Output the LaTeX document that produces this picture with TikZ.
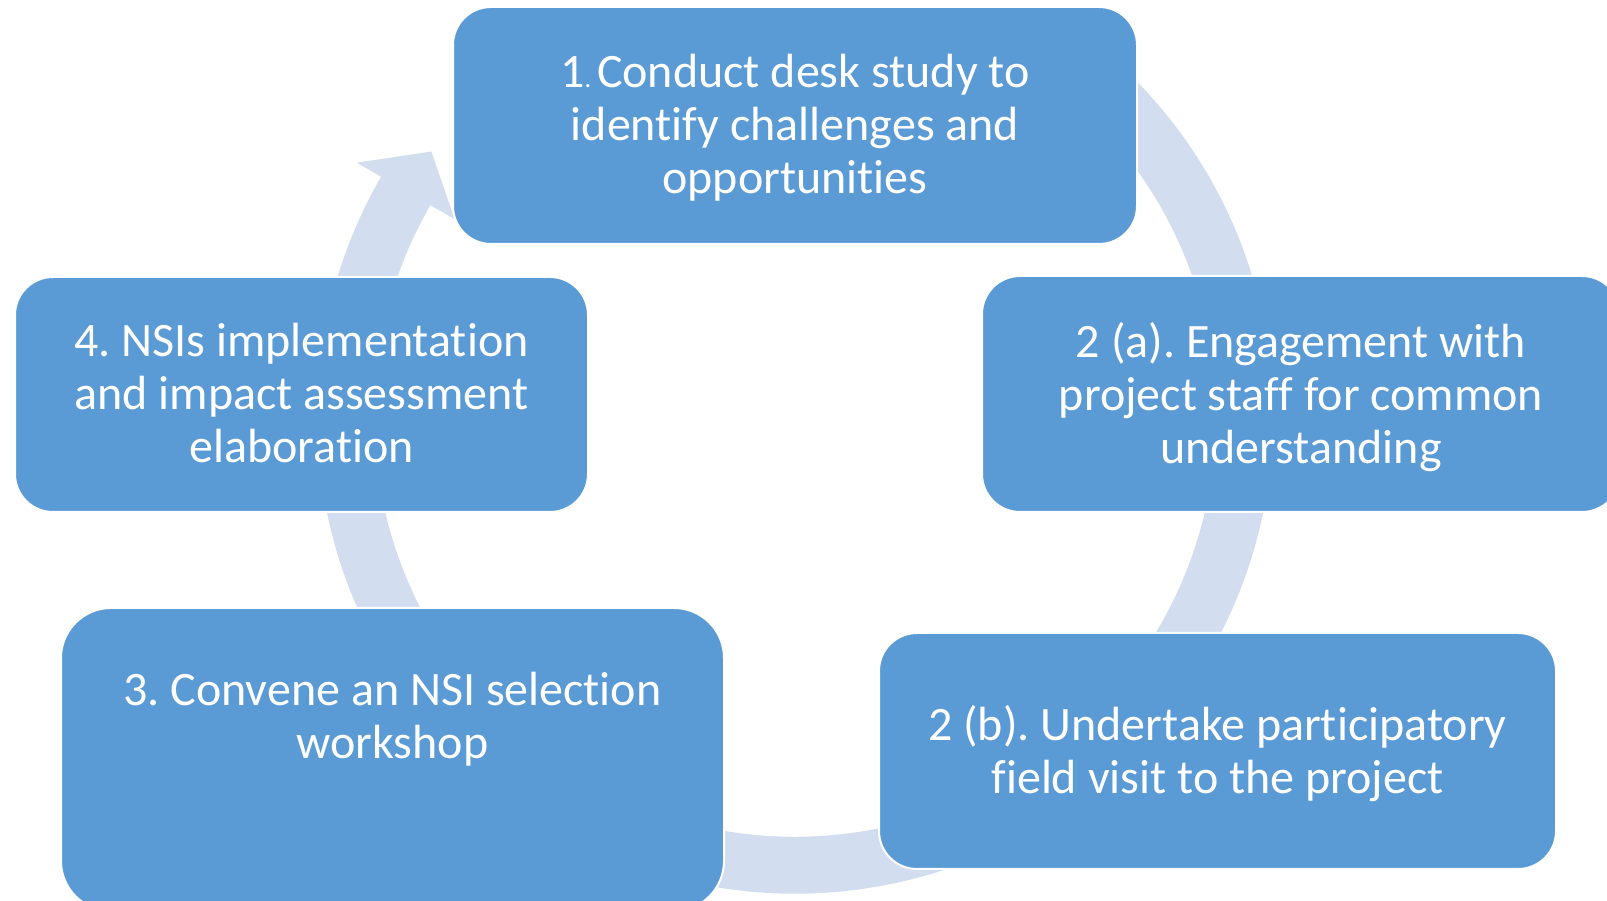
\documentclass[tikz,border=0pt]{standalone}
\usepackage{fontspec}
\setmainfont{Carlito}[Ligatures={NoCommon,NoContextual}]
\definecolor{stepblue}{RGB}{91,155,213}
\definecolor{ringblue}{RGB}{210,222,239}
\tikzset{>=latex}

\begin{document}
\frenchspacing
\begin{tikzpicture}[x=1pt, y=1pt, font=\fontsize{48}{53}\selectfont,
  stepbox/.style={draw=white, line width=2pt, fill=stepblue, rounded corners=38pt,
    text=white, align=center, inner sep=0pt, text depth=3pt}]
\clip (0,0) rectangle (1607,900);
% cycle ring behind the steps
\coordinate (hub) at (795,484.3);
\fill[ringblue, shift={(hub)}] (50:478) arc[start angle=50, end angle=-210, radius=478]
  -- (-210:506) -- (-216:449.5) -- (-210:393) -- (-210:421)
  arc[start angle=-210, end angle=50, radius=421] -- cycle;

\node[stepbox, minimum width=684pt, minimum height=237pt] (desk)     at (795,774.5)
  {1{\fontsize{26}{26}\selectfont.\ }Conduct desk study to\\identify challenges and\\opportunities};
\node[stepbox, minimum width=638pt, minimum height=236pt] (engage)   at (1301,506)
  {2 (a). Engagement with\\project staff for common\\understanding};
\node[stepbox, minimum width=677pt, minimum height=236pt] (visit)    at (1217.5,149)
  {2 (b). Undertake participatory\\field visit to the project};
\node[stepbox, rounded corners=50pt, minimum width=663pt, minimum height=303pt,
  text depth=88pt] (workshop) at (392.5,140.5)
  {3. Convene an NSI selection\\workshop};
\node[stepbox, minimum width=573pt, minimum height=235pt] (impact)   at (301.5,505.5)
  {4. NSIs implementation\\and impact assessment\\elaboration};
\end{tikzpicture}
\end{document}
